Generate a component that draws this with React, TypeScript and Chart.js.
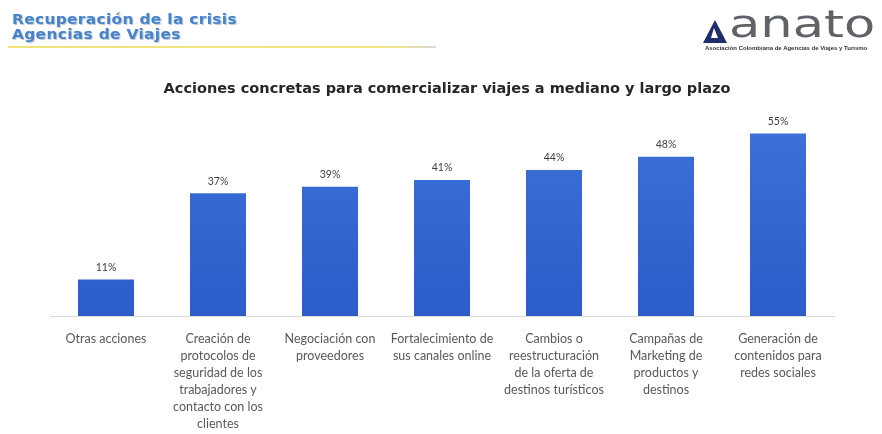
import React, { useEffect, useRef } from "react";
import { Chart, registerables } from "chart.js";

Chart.register(...registerables);

const categories: string[][] = [
  ["Otras acciones"],
  ["Creación de", "protocolos de", "seguridad de los", "trabajadores y", "contacto con los", "clientes"],
  ["Negociación con", "proveedores"],
  ["Fortalecimiento de", "sus canales online"],
  ["Cambios o", "reestructuración", "de la oferta de", "destinos turísticos"],
  ["Campañas de", "Marketing de", "productos y", "destinos"],
  ["Generación de", "contenidos para", "redes sociales"],
];
const values: number[] = [11, 37, 39, 41, 44, 48, 55];
const headerLines: string[] = ["Recuperación de la crisis", "Agencias de Viajes"];
const chartTitle = "Acciones concretas para comercializar viajes a mediano y largo plazo";

const valueLabels = {
  id: "valueLabels",
  afterDatasetsDraw(chart: any) {
    const ctx = chart.ctx;
    const meta = chart.getDatasetMeta(0);
    ctx.save();
    ctx.fillStyle = "#404040";
    ctx.font = "10.5px Lato, 'Liberation Sans', sans-serif";
    ctx.textAlign = "center";
    ctx.textBaseline = "middle";
    meta.data.forEach((bar: any, i: number) => {
      ctx.fillText(values[i] + "%", bar.x, bar.y - 12);
    });
    ctx.restore();
  },
};

export default function App() {
  const ref = useRef<HTMLCanvasElement>(null);
  useEffect(() => {
    if (!ref.current) return;
    const ctx = ref.current.getContext("2d")!;
    const grad = ctx.createLinearGradient(0, 117, 0, 316);
    grad.addColorStop(0, "#3d72d8");
    grad.addColorStop(1, "#2c5cc8");
    const chart = new Chart(ref.current, {
      type: "bar",
      data: {
        labels: categories,
        datasets: [
          {
            data: values,
            backgroundColor: grad,
            borderWidth: 0,
            barPercentage: 0.5,
            categoryPercentage: 1,
          },
        ],
      },
      options: {
        animation: false,
        responsive: false,
        maintainAspectRatio: false,
        layout: { padding: { top: 117, left: 50, right: 48, bottom: 0 } },
        plugins: { legend: { display: false }, tooltip: { enabled: false }, title: { display: false } },
        scales: {
          y: { display: false, min: 0, max: 60 },
          x: {
            grid: { display: false },
            border: { display: true, color: "#d9d9d9", width: 1 },
            ticks: {
              color: "#595959",
              font: { family: "Lato, 'Liberation Sans', sans-serif", size: 12.5, lineHeight: 1.37 },
              padding: 6,
              maxRotation: 0,
              autoSkip: false,
            },
            afterFit: (s: any) => {
              s.height = 118;
            },
          },
        },
      },
      plugins: [valueLabels],
    });
    return () => chart.destroy();
  }, []);

  return (
    <div style={{ position: "absolute", left: 0, top: 0, width: 882, height: 434, background: "#fff", overflow: "hidden" }}>
      <canvas ref={ref} width={882} height={434} style={{ position: "absolute", left: 0, top: 0, width: 882, height: 434 }} />
      <div
        style={{
          position: "absolute",
          left: 12,
          top: 12,
          fontFamily: "'DejaVu Sans', sans-serif",
          fontWeight: "bold",
          fontSize: 14,
          lineHeight: "15px",
          color: "#4584cc",
          textShadow: "1px 1px 1px rgba(60,80,120,0.35)",
          letterSpacing: 0.3,
          transform: "scaleX(1.1)",
          transformOrigin: "left top",
        }}
      >
        {headerLines.map((l) => (
          <div key={l}>{l}</div>
        ))}
      </div>
      <div
        style={{
          position: "absolute",
          left: 8,
          top: 46,
          width: 428,
          height: 2,
          background: "linear-gradient(to right, #f1e27a 0%, #f3e688 90%, #d8d8d8 100%)",
        }}
      />
      <div style={{ position: "absolute", left: 703, top: 8, width: 178, height: 48 }}>
        <svg width={24} height={23} style={{ position: "absolute", left: 0, top: 12 }} viewBox="0 0 24 23">
          <polygon points="12,0 24,23 0,23" fill="#1f2d6b" />
          <polygon points="11,8 15,18 8,18" fill="#ffffff" />
        </svg>
        <div
          style={{
            position: "absolute",
            left: 26,
            top: -3,
            fontFamily: "'DejaVu Sans', sans-serif",
            fontSize: 37,
            lineHeight: "40px",
            color: "#5f6368",
            transform: "scaleX(1.38)",
            transformOrigin: "left top",
          }}
        >
          anato
        </div>
        <div
          style={{
            position: "absolute",
            left: 2,
            top: 37,
            fontFamily: "'Liberation Sans', sans-serif",
            fontSize: 5,
            whiteSpace: "nowrap",
            color: "#333",
            fontWeight: "bold",
            transform: "scaleX(1.2)",
            transformOrigin: "left top",
          }}
        >
          Asociación Colombiana de Agencias de Viajes y Turismo
        </div>
      </div>
      <div
        style={{
          position: "absolute",
          left: 0,
          width: 894,
          top: 80,
          textAlign: "center",
          fontFamily: "'DejaVu Sans', sans-serif",
          fontWeight: "bold",
          fontSize: 14.5,
          color: "#262626",
        }}
      >
        {chartTitle}
      </div>
    </div>
  );
}
